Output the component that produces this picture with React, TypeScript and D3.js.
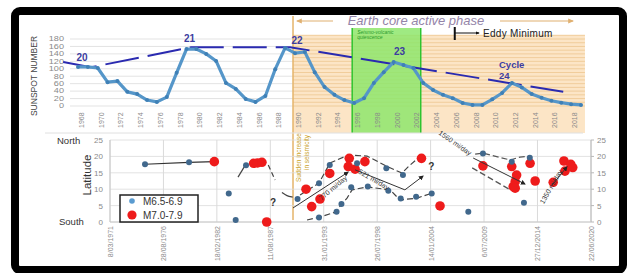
import React from "react";
import * as d3 from "d3";

// ---------- Top chart data (yearly sunspot numbers) ----------
const years = d3.range(1968, 2020);
const sunspots = [105, 105, 102, 64, 67, 38, 32, 16, 11, 24, 89, 153, 153, 140, 121, 62, 46, 19, 11, 27, 99, 156, 142, 145, 91, 51, 30, 16, 8, 21, 62, 91, 118, 110, 102, 62, 43, 30, 21, 8, 3, 3, 18, 35, 62, 50, 32, 22, 14, 9, 5, 3];
const yearTicks = d3.range(1968, 2019, 2);
const sunspotTicks = d3.range(0, 181, 20);
const envelope: [number, number][] = [[1966.5, 118], [1969.3, 104], [1979.5, 158], [1989.5, 158], [2017.2, 38]];
const cycleLabels: { t: string; yr: number; v: number }[] = [
  { t: "20", yr: 1968.4, v: 122 },
  { t: "21", yr: 1979.3, v: 171 },
  { t: "22", yr: 1990.2, v: 166 },
  { t: "23", yr: 2000.6, v: 137 },
];
const activePhase = [1989.8, 2019.2];
const quiescence = [1995.8, 2002.75];
const eddyYear = 2006.2;

// ---------- Bottom chart data (earthquakes: decimal year, latitude) ----------
const dateLabels = ["8/03/1971", "28/08/1976", "18/02/1982", "11/08/1987", "31/01/1993", "26/07/1998", "14/01/2004", "6/07/2009", "27/12/2014", "22/06/2020"];
const latTicks = [0, 5, 10, 15, 20, 25];
const quakesM65: [number, number][] = [
  [1974.77, 17.6], [1979.28, 18.2], [1983.35, 8.7], [1984.06, 0.6], [1985.12, 17.3],
  [1990.4, 7.0], [1992.6, 11.8], [1993.7, 17.4], [1994.4, 3.1], [1994.9, 5.5], [1992.6, 1.4], [1995.9, 10.6],
  [1996.5, 17.9], [1997.6, 10.8], [1999.5, 16.4], [1999.7, 9.5], [2001.2, 14.3], [2000.97, 7.2], [2002.55, 7.7], [2004.15, 8.7],
  [2007.9, 3.1], [2009.4, 20.9], [2012.35, 18.4], [2014.2, 19.6], [2013.6, 5.9],
];
const quakesM70: [number, number][] = [
  [1981.87, 18.4], [1985.9, 17.9], [1986.3, 18.0], [1986.75, 18.2], [1987.24, 0],
  [1991.27, 10.0], [1991.85, 4.7], [1992.7, 7.0], [1993.7, 14.8], [1995.7, 19.4], [1995.6, 16.9], [1996.3, 16.1], [1997.3, 18.4], [2003.1, 19.4], [2005.0, 4.9],
  [2009.4, 17.1], [2012.35, 16.9], [2012.85, 14.3], [2012.7, 12.3], [2012.5, 10.8], [2012.7, 10.3], [2014.23, 17.9], [2014.75, 12.5],
  [2016.6, 12.1], [2017.7, 18.6], [2017.8, 15.5], [2018.4, 17.6], [2018.6, 16.6],
];
const solidLink: [number, number][] = [[1974.77, 17.6], [1979.28, 18.2], [1981.87, 18.4]];
const tickUp: [number, number][] = [[1984.3, 13.7], [1985.0, 17.1]];
const tickDown: [number, number][] = [[1987.4, 17.4], [1988.1, 12.8]];
const curlLeft: [number, number][] = [[1988.8, 9.0], [1989.3, 7.9], [1989.9, 7.6]];
const upper2: [number, number][] = [[1990.66, 8.2], [1992.6, 11.9], [1993.73, 18.0], [1995.58, 20.4], [1997.52, 20.1], [1999.67, 16.8], [2001.11, 14.9], [2001.73, 16.8], [2002.75, 19.5]];
const lower2: [number, number][] = [[1991.37, 0.6], [1992.7, 1.5], [1994.24, 3.0], [1995.47, 7.3], [1995.99, 9.8], [1997.52, 10.7], [1999.88, 9.8], [2000.9, 6.7], [2002.65, 7.3], [2004.19, 8.8]];
const upper3: [number, number][] = [[2008.6, 20.7], [2009.4, 21.0], [2012.2, 18.9], [2013.2, 19.8], [2014.2, 20.1]];
const lower3: [number, number][] = [[2008.3, 16.5], [2012.2, 9.8]];
const arrow770: [number, number][] = [[1989.94, 4.3], [1995.58, 15.2]];
const arrow521: [number, number][] = [[1996.3, 15.9], [2001.4, 9.8], [2003.26, 14.0]];
const arrow1560: [number, number][] = [[2008.4, 19.5], [2013.7, 11.6]];
const arrow1350: [number, number][] = [[2016.5, 11.3], [2018.0, 16.8]];
const speedLabels: { t: string; yr: number; lat: number; rot: number }[] = [
  { t: "770 mi/day", yr: 1994.2, lat: 9.8, rot: -40 },
  { t: "521 mi/day", yr: 1998.1, lat: 12.3, rot: 30 },
  { t: "1560 mi/day", yr: 2006.4, lat: 23.5, rot: 35 },
  { t: "1350 mi/day", yr: 2016.6, lat: 10.4, rot: -60 },
];
const questionMarks: [number, number][] = [[1987.9, 5.0], [2004.1, 15.8]];

const FONT = "'Liberation Sans', Arial, sans-serif";

function yd(y: number): Date {
  const yr = Math.floor(y);
  const s = new Date(yr, 0, 1).getTime();
  const e = new Date(yr + 1, 0, 1).getTime();
  return new Date(s + (y - yr) * (e - s));
}

export default function App() {
  // top scales
  const xT = d3.scaleLinear().domain([1968, 2019]).range([78, 581]);
  const yT = d3.scaleLinear().domain([0, 180]).range([106, 39]);
  // bottom scales
  const parse = d3.timeParse("%d/%m/%Y");
  const dates = dateLabels.map((s) => parse(s) as Date);
  const xB = d3.scaleTime().domain([dates[0], dates[dates.length - 1]]).range([110, 591]);
  const yB = d3.scaleLinear().domain([0, 25]).range([222, 140]);

  const lineT = d3.line<number>().x((_, i) => xT(years[i])).y((d) => yT(d));
  const envLine = d3.line<[number, number]>().x((d) => xT(d[0])).y((d) => yT(d[1]));
  const bl = d3.line<[number, number]>().x((d) => xB(yd(d[0]))).y((d) => yB(d[1]));
  const bx = (y: number) => xB(yd(y));

  const ax0 = xT(activePhase[0]);
  const ax1 = xT(activePhase[1]);
  const gx0 = xT(quiescence[0]);
  const gx1 = xT(quiescence[1]);
  const ex = xT(eddyYear);
  const stripes = d3.range(0, 191, 10);

  return (
    <svg width={627} height={273} style={{ position: "absolute", left: 0, top: 0 }} fontFamily={FONT}>
      <defs>
        <marker id="ah" viewBox="0 0 10 10" refX="8" refY="5" markerWidth="5" markerHeight="5" orient="auto-start-reverse">
          <path d="M0,0 L10,5 L0,10 z" fill="#222" />
        </marker>
        <marker id="ahO" viewBox="0 0 10 10" refX="8" refY="5" markerWidth="5" markerHeight="5" orient="auto-start-reverse">
          <path d="M0,1 L10,5 L0,9 z" fill="#e0b070" />
        </marker>
        <marker id="ahK" viewBox="0 0 10 10" refX="8" refY="5" markerWidth="4" markerHeight="4" orient="auto">
          <path d="M0,1 L10,5 L0,9 z" fill="#111" />
        </marker>
      </defs>
      <rect x={0} y={0} width={627} height={273} fill="#ffffff" />
      <rect x={15} y={11} width={608} height={259} rx={5} fill="#ffffff" stroke="#000" strokeWidth={8} />

      {/* ===== Top chart ===== */}
      {sunspotTicks.map((v) => (
        <line key={"g" + v} x1={70} x2={583} y1={yT(v)} y2={yT(v)} stroke="#dcdcdc" strokeWidth={0.8} />
      ))}
      {/* active phase region */}
      <rect x={ax0} y={35} width={ax1 - ax0 + 2} height={98} fill="#fce2c0" opacity={0.9} />
      {stripes.map((v) => (
        <line key={"s" + v} x1={ax0} x2={ax1 + 2} y1={yT(v)} y2={yT(v)} stroke="#eec690" strokeWidth={0.8} />
      ))}
      {/* quiescence region */}
      <rect x={gx0} y={28} width={gx1 - gx0} height={105} fill="#8ee66c" opacity={0.85} />
      <line x1={gx0} x2={gx0} y1={28} y2={133} stroke="#2fc42f" strokeWidth={1.5} />
      <line x1={gx1} x2={gx1} y1={28} y2={133} stroke="#2fc42f" strokeWidth={1.5} />
      <text x={gx0 + 5} y={33.5} fontSize={5} fontStyle="italic" fill="#2a9a2a">Seismo-volcanic</text>
      <text x={gx0 + 5} y={39} fontSize={5} fontStyle="italic" fill="#2a9a2a">quiescence</text>
      <line x1={ax0} x2={ax0} y1={16} y2={220} stroke="#e5b46a" strokeWidth={1.5} />

      {/* y ticks */}
      {sunspotTicks.map((v) => (
        <text key={"yt" + v} transform={`translate(64,${yT(v) + 2.3}) scale(1.45,1)`} fontSize={6.3} textAnchor="end" fill="#8a8a8a">{v}</text>
      ))}
      <text transform="translate(37,76) rotate(-90)" fontSize={8.5} textAnchor="middle" fill="#444">SUNSPOT NUMBER</text>
      {/* x ticks */}
      {yearTicks.map((y) => (
        <text key={"xt" + y} transform={`translate(${xT(y) + 6},128) rotate(-90)`} fontSize={7} fill="#8a8a8a">{y}</text>
      ))}
      <line x1={45} x2={583} y1={133} y2={133} stroke="#e0e0e0" strokeWidth={1} />

      {/* envelope */}
      <path d={envLine(envelope) || ""} fill="none" stroke="#2a2ab0" strokeWidth={2} strokeDasharray="34 9" />
      {/* sunspot line */}
      <path d={lineT(sunspots) || ""} fill="none" stroke="#5596c9" strokeWidth={3.2} strokeLinejoin="round" />
      {sunspots.map((v, i) => (
        <circle key={"p" + i} cx={xT(years[i])} cy={yT(v)} r={2} fill="#3f80b6" />
      ))}
      {cycleLabels.map((c) => (
        <text key={c.t} x={xT(c.yr)} y={yT(c.v)} fontSize={10} fontWeight="bold" textAnchor="middle" fill="#3c3ca0">{c.t}</text>
      ))}
      <text x={499} y={68} fontSize={9.5} fontWeight="bold" fill="#3c3ca0">Cycle</text>
      <text x={499} y={79} fontSize={9.5} fontWeight="bold" fill="#3c3ca0">24</text>

      {/* Earth core active phase */}
      <text x={416} y={25} fontSize={13} fontStyle="italic" textAnchor="middle" fill="#9484a8">Earth core active phase</text>
      <line x1={333} x2={297} y1={21} y2={21} stroke="#e0b070" strokeWidth={1.2} markerEnd="url(#ahO)" />
      <line x1={500} x2={573} y1={21} y2={21} stroke="#e0b070" strokeWidth={1.2} markerEnd="url(#ahO)" />

      {/* Eddy Minimum */}
      <line x1={ex} x2={ex} y1={27} y2={40} stroke="#111" strokeWidth={2} />
      <line x1={ex} x2={479} y1={33} y2={33} stroke="#111" strokeWidth={1} markerEnd="url(#ahK)" />
      <text x={483} y={37} fontSize={10} fill="#222" letterSpacing={0.3}>Eddy  Minimum</text>

      {/* ===== Bottom chart ===== */}
      {latTicks.map((v) => (
        <line key={"bg" + v} x1={110} x2={591} y1={yB(v)} y2={yB(v)} stroke="#dadada" strokeWidth={0.8} />
      ))}
      {dates.map((d, i) => (
        <line key={"bv" + i} x1={xB(d)} x2={xB(d)} y1={140} y2={222} stroke="#dadada" strokeWidth={1} />
      ))}
      <line x1={110} x2={110} y1={140} y2={222} stroke="#c8c8c8" strokeWidth={1} />
      <line x1={591} x2={591} y1={140} y2={222} stroke="#b8b8b8" strokeWidth={1} />
      <line x1={110} x2={591} y1={222} y2={222} stroke="#c8c8c8" strokeWidth={1} />
      {latTicks.map((v) => (
        <g key={"bl" + v}>
          <text x={103} y={yB(v) + 3} fontSize={8} textAnchor="end" fill="#8a8a8a">{v}</text>
          <text x={597} y={yB(v) + 3} fontSize={8} fill="#8a8a8a">{v}</text>
          <line x1={591} x2={594} y1={yB(v)} y2={yB(v)} stroke="#b8b8b8" />
        </g>
      ))}
      {dateLabels.map((s, i) => (
        <text key={"dl" + i} transform={`translate(${xB(dates[i]) + 3},226) rotate(-90)`} fontSize={7} textAnchor="end" fill="#8a8a8a">{s}</text>
      ))}
      <text x={57} y={144} fontSize={9.5} fill="#333">North</text>
      <text x={59} y={225} fontSize={9.5} fill="#333">South</text>
      <text transform="translate(91,175) rotate(-90)" fontSize={11.5} textAnchor="middle" fill="#333">Latitude</text>

      {/* seismicity note */}
      <text transform="translate(301,182) rotate(-90)" fontSize={6.5} fill="#c9a227">Sudden increase</text>
      <text transform="translate(309,170) rotate(-90)" fontSize={6.5} fill="#c9a227">in seismicity</text>

      {/* annotation lines */}
      <path d={bl(solidLink) || ""} fill="none" stroke="#333" strokeWidth={1.2} />
      <path d={bl(tickUp) || ""} fill="none" stroke="#444" strokeWidth={1.2} />
      <path d={bl(tickDown) || ""} fill="none" stroke="#444" strokeWidth={1.2} strokeDasharray="5 3" />
      <path d={d3.line<[number, number]>().x((d) => bx(d[0])).y((d) => yB(d[1])).curve(d3.curveBasis)(curlLeft) || ""} fill="none" stroke="#444" strokeWidth={1.2} />
      <path d={bl(upper2) || ""} fill="none" stroke="#444" strokeWidth={1.2} strokeDasharray="6 3" />
      <path d={bl(lower2) || ""} fill="none" stroke="#444" strokeWidth={1.2} strokeDasharray="6 3" />
      <path d={bl(upper3) || ""} fill="none" stroke="#555" strokeWidth={1.2} strokeDasharray="6 3" />
      <path d={bl(lower3) || ""} fill="none" stroke="#555" strokeWidth={1.2} strokeDasharray="6 3" />

      {/* points */}
      {quakesM70.map((d, i) => (
        <circle key={"r" + i} cx={bx(d[0])} cy={yB(d[1])} r={4.8} fill="#ee1b1b" />
      ))}
      {quakesM65.map((d, i) => (
        <circle key={"b" + i} cx={bx(d[0])} cy={yB(d[1])} r={3} fill="#41688c" />
      ))}

      {/* arrows */}
      <path d={bl(arrow770) || ""} fill="none" stroke="#333" strokeWidth={1} markerEnd="url(#ah)" />
      <path d={bl(arrow521) || ""} fill="none" stroke="#333" strokeWidth={1} markerEnd="url(#ah)" />
      <path d={bl(arrow1560) || ""} fill="none" stroke="#333" strokeWidth={1} markerEnd="url(#ah)" />
      <path d={bl(arrow1350) || ""} fill="none" stroke="#333" strokeWidth={1} markerEnd="url(#ah)" />
      {speedLabels.map((l) => (
        <text key={l.t} transform={`translate(${bx(l.yr)},${yB(l.lat)}) rotate(${l.rot})`} fontSize={7} textAnchor="middle" fill="#333">{l.t}</text>
      ))}
      {questionMarks.map((q, i) => (
        <text key={"q" + i} x={bx(q[0])} y={yB(q[1])} fontSize={10} fontWeight="bold" textAnchor="middle" fill="#333">?</text>
      ))}

      {/* legend */}
      <rect x={120} y={195} width={78} height={27} fill="#fff" stroke="#222" strokeWidth={1.5} />
      <circle cx={132} cy={201} r={2.8} fill="#5a9bd0" />
      <text x={143} y={204.5} fontSize={10} fill="#333">M6.5-6.9</text>
      <circle cx={132} cy={215} r={4.6} fill="#ee1b1b" />
      <text x={143} y={218.5} fontSize={10} fill="#333">M7.0-7.9</text>
    </svg>
  );
}
